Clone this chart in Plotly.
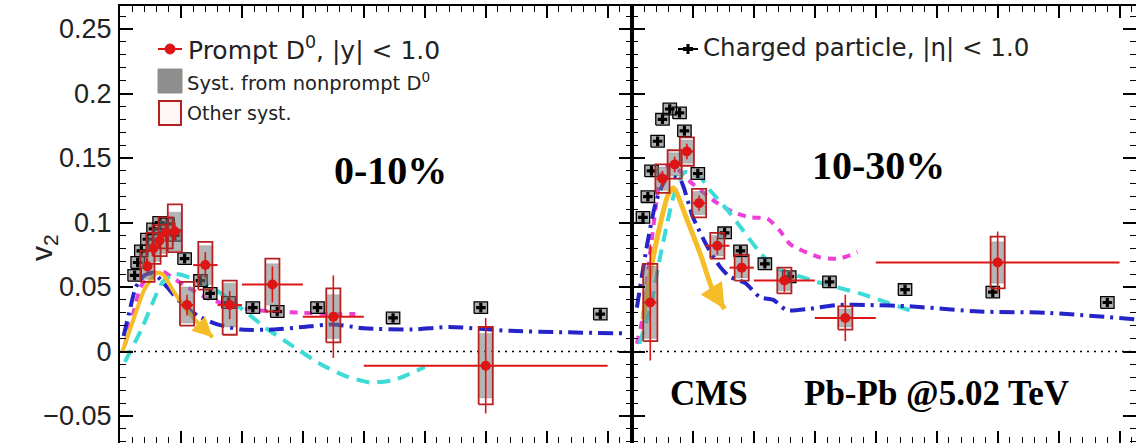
import plotly.graph_objects as go
from plotly.subplots import make_subplots

# ---------------- data ----------------
# 0-10 %  prompt D0
d0_c_pt = [2.25, 2.75, 3.25, 3.75, 4.5, 5.5, 7.0, 9.0, 12.5, 17.5, 30.0]
d0_c_hw = [0.25, 0.25, 0.25, 0.25, 0.5, 0.5, 1.0, 1.0, 2.5, 2.5, 10.0]
d0_c_v2 = [0.066, 0.080, 0.086, 0.092, 0.093, 0.036, 0.067, 0.036, 0.052, 0.027, -0.011]
d0_c_stat = [0.006, 0.006, 0.006, 0.007, 0.007, 0.008, 0.010, 0.011, 0.014, 0.032, 0.037]
d0_c_sys_lo = [0.012, 0.012, 0.012, 0.012, 0.016, 0.016, 0.019, 0.023, 0.021, 0.020, 0.030]
d0_c_sys_hi = [0.012, 0.012, 0.012, 0.012, 0.021, 0.018, 0.018, 0.019, 0.020, 0.022, 0.030]
d0_c_np = [0.010, 0.010, 0.010, 0.010, 0.015, 0.014, 0.015, 0.017, 0.016, 0.017, 0.025]

# 10-30 %  prompt D0
d0_p_pt = [1.5, 2.5, 3.5, 4.5, 5.5, 7.0, 9.0, 12.5, 17.5, 30.0]
d0_p_hw = [0.5, 0.5, 0.5, 0.5, 0.5, 1.0, 1.0, 2.5, 2.5, 10.0]
d0_p_v2 = [0.038, 0.134, 0.145, 0.155, 0.115, 0.082, 0.065, 0.055, 0.026, 0.069]
d0_p_stat = [0.045, 0.006, 0.006, 0.006, 0.006, 0.007, 0.008, 0.009, 0.018, 0.024]
d0_p_sys = [0.030, 0.011, 0.011, 0.011, 0.011, 0.010, 0.010, 0.010, 0.009, 0.020]
d0_p_np = [0.028, 0.009, 0.009, 0.009, 0.009, 0.008, 0.008, 0.008, 0.007, 0.016]

# charged particles
ch_c_pt = [1.2, 1.45, 1.75, 2.25, 2.75, 3.25, 3.9, 4.5, 5.3, 6.6, 7.4, 8.9, 10.9, 12.9, 16.2, 22.4, 29.6, 39.4]
ch_c_v2 = [0.059, 0.069, 0.078, 0.087, 0.095, 0.100, 0.099, 0.090, 0.072, 0.055, 0.045, 0.038,
           0.034, 0.031, 0.034, 0.026, 0.034, 0.029]
ch_p_pt = [0.9, 1.3, 1.6, 2.1, 2.5, 3.1, 3.9, 4.3, 5.4, 7.6, 8.9, 10.9, 12.9, 16.2, 22.4, 29.6, 39.0]
ch_p_v2 = [0.104, 0.120, 0.140, 0.163, 0.180, 0.188, 0.185, 0.171, 0.138, 0.092, 0.078, 0.068,
           0.058, 0.054, 0.048, 0.046, 0.038]

# model curves, 0-10 %
yel_c_pt = [0.2, 1.0, 2.0, 3.0, 3.5, 4.5, 5.5, 6.5, 7.6]
yel_c_v2 = [0.0, 0.022, 0.048, 0.061, 0.060, 0.045, 0.032, 0.021, 0.011]
cya_c_pt = [0.4, 1.8, 2.6, 3.5, 4.5, 5.5, 7.8, 10.0, 12.0, 14.2, 16.5, 18.5, 20.5, 22.5, 25.0]
cya_c_v2 = [-0.008, 0.018, 0.036, 0.054, 0.060, 0.058, 0.048, 0.033, 0.018, 0.004, -0.010,
            -0.019, -0.024, -0.022, -0.012]
mag_c_pt = [0.4, 1.1, 1.7, 2.5, 3.5, 4.5, 5.5, 7.0, 8.5, 10.5, 12.5, 15.0, 17.0, 19.3]
mag_c_v2 = [0.005, 0.030, 0.050, 0.060, 0.062, 0.056, 0.050, 0.042, 0.037, 0.033, 0.031, 0.030,
            0.029, 0.029]
blu_c_pt = [0.3, 0.8, 1.3, 2.0, 2.7, 3.5, 4.3, 5.2, 6.5, 8.0, 10.0, 12.5, 15.0, 17.5, 20.0,
            24.0, 27.0, 32.0, 36.0, 41.5]
blu_c_v2 = [0.012, 0.032, 0.050, 0.059, 0.061, 0.054, 0.045, 0.036, 0.027, 0.021, 0.017, 0.017,
            0.019, 0.021, 0.018, 0.017, 0.019, 0.016, 0.015, 0.014]

# model curves, 10-30 %
yel_p_pt = [0.9, 1.6, 2.3, 2.9, 3.4, 4.6, 5.7, 6.6, 7.6]
yel_p_v2 = [0.025, 0.066, 0.098, 0.120, 0.127, 0.100, 0.073, 0.048, 0.033]
cya_p_pt = [0.6, 1.5, 2.3, 2.9, 3.4, 4.3, 5.6, 6.4, 7.8, 9.1, 10.3, 11.6, 14.8, 18.7, 20.9, 23.4]
cya_p_v2 = [0.006, 0.034, 0.073, 0.100, 0.120, 0.139, 0.135, 0.125, 0.110, 0.094, 0.079, 0.066,
            0.055, 0.045, 0.038, 0.030]
mag_p_pt = [0.4, 0.9, 1.6, 2.5, 3.3, 4.6, 7.0, 8.3, 9.7, 11.1, 12.1, 13.0, 15.4, 17.0, 18.5]
mag_p_v2 = [0.006, 0.027, 0.085, 0.140, 0.145, 0.133, 0.115, 0.108, 0.104, 0.103, 0.094, 0.083,
            0.073, 0.072, 0.077]
blu_p_pt = [0.4, 1.3, 2.0, 2.9, 3.9, 5.0, 6.2, 7.2, 8.0, 9.3, 10.5, 11.6, 12.7, 14.5, 16.8, 19.5,
            22.8, 28.5, 34.0, 41.3]
blu_p_v2 = [0.034, 0.086, 0.117, 0.135, 0.134, 0.104, 0.081, 0.066, 0.058, 0.053, 0.042, 0.040,
            0.032, 0.033, 0.036, 0.036, 0.035, 0.031, 0.030, 0.025]

y_ticks = [-0.05, 0, 0.05, 0.1, 0.15, 0.2, 0.25]
y_ticktext = ["\u22120.05", "0", "0.05", "0.1", "0.15", "0.2", "0.25"]

# ---------------- styles ----------------
RED = "#dd1515"
BOXRED = "#b52020"
YEL = "#f5bd28"
CYA = "#3ddbd6"
MAG = "#ee3fd8"
BLU = "#2424c8"
SANS = "Liberation Sans, Arial, sans-serif"
WIDE = "DejaVu Sans, Verdana, sans-serif"
SERIF = "Liberation Serif, Times New Roman, serif"

W, H = 1136, 443
L, T = 120, 6
PW, PH = W - L, H - T


def px(xp):
    return (xp - L) / PW


def py(yp):
    return 1 - (yp - T) / PH


def boxes(xc, lo, hi, half):
    xs, ys = [], []
    for x, a, b in zip(xc, lo, hi):
        xs += [x - half, x + half, x + half, x - half, x - half, None]
        ys += [a, a, b, b, a, None]
    return xs, ys


fig = make_subplots(rows=1, cols=2, shared_yaxes=True, horizontal_spacing=0,
                    column_widths=[512, 504])

panels = [
    dict(col=1, d0_pt=d0_c_pt, d0_hw=d0_c_hw, d0_v2=d0_c_v2, d0_stat=d0_c_stat,
         lo=[v - s for v, s in zip(d0_c_v2, d0_c_sys_lo)],
         hi=[v + s for v, s in zip(d0_c_v2, d0_c_sys_hi)],
         nplo=[v - s for v, s in zip(d0_c_v2, d0_c_np)],
         nphi=[v + s for v, s in zip(d0_c_v2, d0_c_np)],
         ch_pt=ch_c_pt, ch_v2=ch_c_v2,
         curves=[(mag_c_pt, mag_c_v2, MAG, "8px,7px", 4),
                 (cya_c_pt, cya_c_v2, CYA, "13px,8px", 4),
                 (blu_c_pt, blu_c_v2, BLU, "15px,6px,3px,6px", 4),
                 (yel_c_pt, yel_c_v2, YEL, "solid", 4)]),
    dict(col=2, d0_pt=d0_p_pt, d0_hw=d0_p_hw, d0_v2=d0_p_v2, d0_stat=d0_p_stat,
         lo=[v - s for v, s in zip(d0_p_v2, d0_p_sys)],
         hi=[v + s for v, s in zip(d0_p_v2, d0_p_sys)],
         nplo=[v - s for v, s in zip(d0_p_v2, d0_p_np)],
         nphi=[v + s for v, s in zip(d0_p_v2, d0_p_np)],
         ch_pt=ch_p_pt, ch_v2=ch_p_v2,
         curves=[(mag_p_pt, mag_p_v2, MAG, "8px,7px", 4),
                 (cya_p_pt, cya_p_v2, CYA, "13px,8px", 4),
                 (blu_p_pt, blu_p_v2, BLU, "15px,6px,3px,6px", 4),
                 (yel_p_pt, yel_p_v2, YEL, "solid", 5)]),
]

for p in panels:
    c = p["col"]
    # zero line
    fig.add_trace(go.Scatter(x=[0, 42], y=[0, 0], mode="lines",
                             line=dict(color="black", width=1.6, dash="2px,5px"),
                             showlegend=False, hoverinfo="skip"), row=1, col=c)
    for xs, ys, col, dash, w in p["curves"]:
        fig.add_trace(go.Scatter(x=xs, y=ys, mode="lines",
                                 line=dict(color=col, width=w, dash=dash, shape="spline",
                                           smoothing=0.6),
                                 showlegend=False, hoverinfo="skip"), row=1, col=c)
    # charged particle boxes
    bx, by = boxes(p["ch_pt"], [v - 0.0045 for v in p["ch_v2"]],
                   [v + 0.0045 for v in p["ch_v2"]], 0.55)
    fig.add_trace(go.Scatter(x=bx, y=by, mode="lines", fill="toself",
                             fillcolor="rgba(150,150,150,0.75)",
                             line=dict(color="black", width=1.3),
                             showlegend=False, hoverinfo="skip"), row=1, col=c)
    fig.add_trace(go.Scatter(x=p["ch_pt"], y=p["ch_v2"], mode="markers",
                             marker=dict(symbol="cross", size=8, color="black"),
                             error_y=dict(type="constant", value=0.002, color="black",
                                          thickness=1.5, width=0),
                             showlegend=False, hoverinfo="skip"), row=1, col=c)
    # D0 gray (nonprompt) boxes
    gx, gy = boxes(p["d0_pt"], p["nplo"], p["nphi"], 0.5)
    fig.add_trace(go.Scatter(x=gx, y=gy, mode="lines", fill="toself",
                             fillcolor="rgba(120,120,120,0.55)",
                             line=dict(color="rgba(120,120,120,0.6)", width=0.5),
                             showlegend=False, hoverinfo="skip"), row=1, col=c)
    # D0 other syst boxes
    rx, ry = boxes(p["d0_pt"], p["lo"], p["hi"], 0.58)
    fig.add_trace(go.Scatter(x=rx, y=ry, mode="lines",
                             line=dict(color=BOXRED, width=1.8),
                             showlegend=False, hoverinfo="skip"), row=1, col=c)
    # D0 points
    fig.add_trace(go.Scatter(x=p["d0_pt"], y=p["d0_v2"], mode="markers",
                             marker=dict(symbol="circle", size=10, color=RED),
                             error_x=dict(type="data", array=p["d0_hw"], color=RED,
                                          thickness=2, width=0),
                             error_y=dict(type="data", array=p["d0_stat"], color=RED,
                                          thickness=1.6, width=0),
                             showlegend=False, hoverinfo="skip"), row=1, col=c)

# arrows at the end of the yellow curves
for xs, ys, xr, yr, size in [(yel_c_pt, yel_c_v2, "x", "y", 0.8),
                             (yel_p_pt, yel_p_v2, "x2", "y2", 1.0)]:
    fig.add_annotation(x=xs[-1], y=ys[-1], ax=xs[-2], ay=ys[-2], xref=xr, yref=yr,
                       axref=xr, ayref=yr, showarrow=True, arrowhead=2, arrowsize=size,
                       arrowwidth=5, arrowcolor=YEL, text="")

axis_common = dict(showline=True, linecolor="black", linewidth=2, mirror="allticks",
                   ticks="inside", tickcolor="black", showgrid=False, zeroline=False,
                   automargin=False)

for ax, rng in [("xaxis", [0, 42]), ("xaxis2", [0, 41.35])]:
    fig.layout[ax].update(range=rng, tick0=0, dtick=5, ticklen=12, tickwidth=1.5,
                          showticklabels=False,
                          minor=dict(ticks="inside", dtick=1, ticklen=6, tickwidth=1.2,
                                     tickcolor="black", showgrid=False),
                          **axis_common)

yrange = [(351.5 - 443) / 1290, (351.5 - 6) / 1290]
fig.layout.yaxis.update(range=yrange, tickvals=y_ticks, ticktext=y_ticktext, ticklen=13,
                        tickwidth=1.5, tickfont=dict(family=SANS, size=27, color="#222"),
                        ticklabelstandoff=1,
                        minor=dict(ticks="inside", dtick=0.01, ticklen=6, tickwidth=1.2,
                                   tickcolor="black", showgrid=False),
                        **axis_common)
fig.layout.yaxis2.update(range=yrange, tickvals=y_ticks, ticklen=13, tickwidth=1.5,
                         showticklabels=False,
                         minor=dict(ticks="inside", dtick=0.01, ticklen=6, tickwidth=1.2,
                                    tickcolor="black", showgrid=False),
                         **axis_common)

# ---------------- text & legends ----------------
ann = []
ann.append(dict(x=px(43), y=py(248), text="v<sub>2</sub>", textangle=-90,
                font=dict(family=SANS, size=30, color="#222")))
ann.append(dict(x=px(390), y=py(170), text="<b>0-10%</b>",
                font=dict(family=SERIF, size=40, color="black")))
ann.append(dict(x=px(878), y=py(166), text="<b>10-30%</b>",
                font=dict(family=SERIF, size=40, color="black")))
ann.append(dict(x=px(709), y=py(393), text="<b>CMS</b>",
                font=dict(family=SERIF, size=35, color="black")))
ann.append(dict(x=px(936), y=py(393), text="<b>Pb-Pb @5.02 TeV</b>",
                font=dict(family=SERIF, size=35, color="black")))
ann.append(dict(x=px(186), y=py(48), xanchor="left",
                text="Prompt D<sup>0</sup>, |y| < 1.0",
                font=dict(family=WIDE, size=25, color="#222")))
ann.append(dict(x=px(185), y=py(82), xanchor="left",
                text="Syst. from nonprompt D<sup>0</sup>",
                font=dict(family=WIDE, size=19.5, color="#222")))
ann.append(dict(x=px(185), y=py(113), xanchor="left", text="Other syst.",
                font=dict(family=WIDE, size=19, color="#222")))
ann.append(dict(x=px(701), y=py(47), xanchor="left",
                text="Charged particle, |\u03b7| < 1.0",
                font=dict(family=WIDE, size=24.5, color="#222")))
for a in ann:
    a.setdefault("xanchor", "center")
    a.update(xref="paper", yref="paper", showarrow=False, yanchor="middle")
    fig.add_annotation(**a)

shapes = [
    # red D0 legend marker with its horizontal bar
    dict(type="line", x0=px(158), x1=px(182), y0=py(49), y1=py(49),
         line=dict(color=RED, width=2)),
    dict(type="circle", x0=px(165), x1=px(175), y0=py(44), y1=py(54),
         fillcolor=RED, line=dict(color=RED, width=1)),
    # gray box
    dict(type="rect", x0=px(158), x1=px(182), y0=py(69), y1=py(93),
         fillcolor="#8e8e8e", line=dict(color="#8e8e8e", width=1)),
    # red open box
    dict(type="rect", x0=px(159), x1=px(181), y0=py(101), y1=py(125),
         fillcolor="#fff6f6", line=dict(color=BOXRED, width=2)),
    # charged legend cross
    dict(type="line", x0=px(678), x1=px(698), y0=py(49), y1=py(49),
         line=dict(color="black", width=2)),
    dict(type="line", x0=px(683), x1=px(693), y0=py(49), y1=py(49),
         line=dict(color="black", width=4)),
    dict(type="line", x0=px(688), x1=px(688), y0=py(44), y1=py(54),
         line=dict(color="black", width=3)),
]
for s in shapes:
    s.update(xref="paper", yref="paper")
    fig.add_shape(**s)

fig.update_layout(width=W, height=H, margin=dict(l=L, r=0, t=T, b=0, pad=0),
                  paper_bgcolor="white", plot_bgcolor="white", showlegend=False)

fig.write_html("out.html", config={"displayModeBar": False},
               post_script="document.body.style.margin='0';"
                           "document.body.style.overflow='hidden';")
